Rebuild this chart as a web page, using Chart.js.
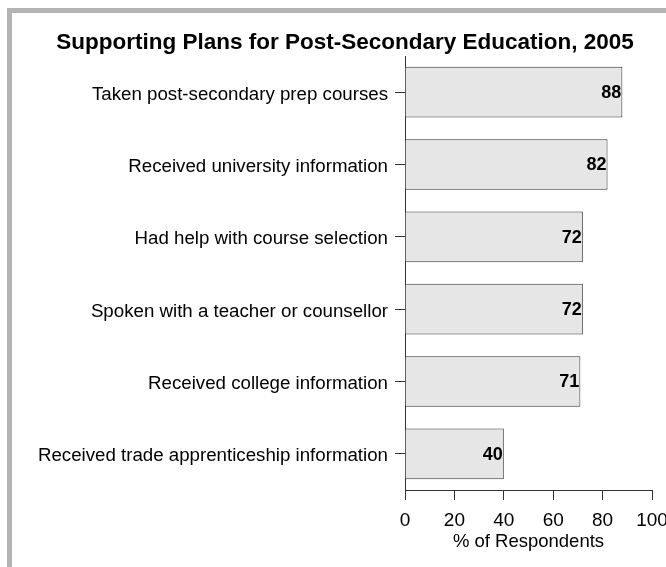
<!DOCTYPE html>
<html>
<head>
<meta charset="utf-8">
<title>Supporting Plans for Post-Secondary Education, 2005</title>
<script src="https://cdn.jsdelivr.net/npm/chart.js@4.4.1/dist/chart.umd.min.js"></script>
<style>
    html, body { margin: 0; padding: 0; background: #fff; overflow: hidden; width: 666px; height: 567px; }
    #frame { position: absolute; left: 7px; top: 8px; width: 700px; height: 600px;
             border-top: 5px solid #b3b3b3; border-left: 5px solid #b3b3b3; }
    #wrap { position: absolute; left: 0; top: 0; width: 690px; height: 567px; }
</style>
</head>
<body>
<div id="frame"></div>
<div id="wrap"><canvas id="planChart"></canvas></div>
<script>
const chartTitle = 'Supporting Plans for Post-Secondary Education, 2005';
const activities = [
    'Taken post-secondary prep courses',
    'Received university information',
    'Had help with course selection',
    'Spoken with a teacher or counsellor',
    'Received college information',
    'Received trade apprenticeship information'
];
const respondents = [88, 82, 72, 72, 71, 40];
const xAxisTitle = '% of Respondents';
const xMin = 0;
const xMax = 100;
const xStep = 20;

const fontFamily = '"Liberation Sans", Arial, Helvetica, sans-serif';
const axisColor = '#333';

// draws the bold value at the end of each bar
const valueLabels = {
    id: 'valueLabels',
    afterDatasetsDraw(chart) {
        const ctx = chart.ctx;
        const meta = chart.getDatasetMeta(0);
        ctx.save();
        ctx.font = 'bold 18px ' + fontFamily;
        ctx.fillStyle = '#000';
        ctx.textAlign = 'right';
        ctx.textBaseline = 'middle';
        meta.data.forEach((bar, i) => {
            ctx.fillText(respondents[i], bar.x - 1, bar.y + 1);
        });
        ctx.restore();
    }
};

function initializeChart() {
    const ctx = document.getElementById('planChart').getContext('2d');
    new Chart(ctx, {
        type: 'bar',
        data: {
            labels: activities,
            datasets: [{
                data: respondents,
                backgroundColor: '#e6e6e6',
                borderColor: '#333',
                borderWidth: 1,
                barPercentage: 0.7,
                categoryPercentage: 1
            }]
        },
        options: {
            indexAxis: 'y',
            responsive: true,
            maintainAspectRatio: false,
            animation: false,
            layout: { padding: { left: 38, right: 38, top: 0, bottom: 0 } },
            plugins: {
                legend: { display: false },
                tooltip: { enabled: false },
                title: {
                    display: true,
                    text: chartTitle,
                    color: '#000',
                    font: { family: fontFamily, size: 22.5, weight: 'bold' },
                    padding: { top: 29, bottom: 0 }
                }
            },
            scales: {
                x: {
                    min: xMin,
                    max: xMax,
                    grid: { drawOnChartArea: false, tickLength: 10, color: axisColor },
                    border: { color: axisColor },
                    ticks: {
                        stepSize: xStep,
                        color: '#000',
                        padding: 9,
                        maxRotation: 0,
                        font: { family: fontFamily, size: 19 }
                    },
                    title: {
                        display: true,
                        text: xAxisTitle,
                        color: '#000',
                        font: { family: fontFamily, size: 18.5 },
                        padding: { top: 0, bottom: 14 }
                    },
                    afterFit: scale => { scale.height = 77; }
                },
                y: {
                    grid: { drawOnChartArea: false, offset: false, tickLength: 10, color: axisColor },
                    border: { color: axisColor },
                    ticks: {
                        color: '#000',
                        padding: 7,
                        labelOffset: 2.5,
                        font: { family: fontFamily, size: 18.7 }
                    },
                    afterFit: scale => { scale.width = 367; }
                }
            }
        },
        plugins: [valueLabels]
    });
}

document.addEventListener('DOMContentLoaded', initializeChart);
</script>
</body>
</html>
